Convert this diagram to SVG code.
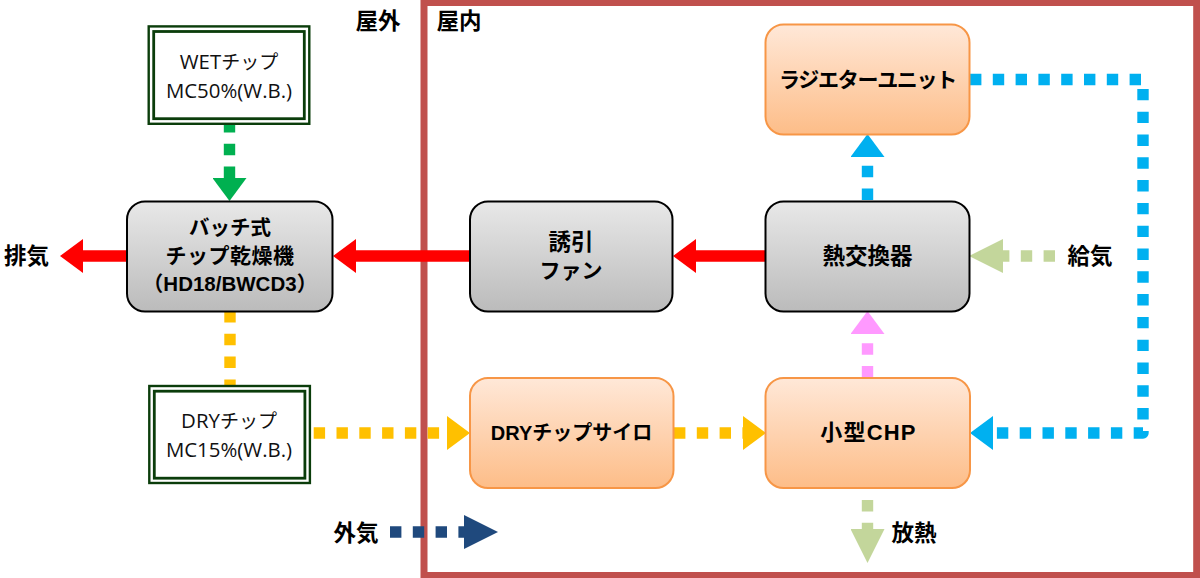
<svg xmlns="http://www.w3.org/2000/svg" width="1200" height="578" viewBox="0 0 1200 578">
<style>
text{font-family:"Liberation Sans","Noto Sans CJK JP",sans-serif;font-weight:700;font-size:21px;fill:#000;text-anchor:middle}
.big{font-size:22.5px}
.chip{font-family:"Open Sans","Noto Sans CJK JP",sans-serif;font-weight:400;font-size:20.4px;fill:#111}
.kana{font-size:19px}
.gray{fill:url(#gGray);stroke:#000;stroke-width:2}
.orange{fill:url(#gOrange);stroke:#F79646;stroke-width:2}
.outer{fill:#fff;stroke:#0B3D0B;stroke-width:2.4}
.inner{fill:#fff;stroke:#0B3D0B;stroke-width:2.8}
.d{fill:none;stroke-width:11.4;stroke-dasharray:11.4 11.4}
.s{fill:none;stroke:#FF0000;stroke-width:11.4}
</style>
<defs>
<linearGradient id="gGray" x1="0" y1="0" x2="0" y2="1"><stop offset="0" stop-color="#E8E8E8"/><stop offset="1" stop-color="#BBBBBB"/></linearGradient>
<linearGradient id="gOrange" x1="0" y1="0" x2="0" y2="1"><stop offset="0" stop-color="#FFE8D8"/><stop offset="1" stop-color="#FDBD88"/></linearGradient>
<marker id="mGreen" markerUnits="userSpaceOnUse" markerWidth="23" markerHeight="34" viewBox="0 0 23 34" refX="0" refY="17" orient="auto"><path d="M0 0L23 17L0 34Z" fill="#00B050"/></marker>
<marker id="mRed" markerUnits="userSpaceOnUse" markerWidth="23" markerHeight="34" viewBox="0 0 23 34" refX="0" refY="17" orient="auto"><path d="M0 0L23 17L0 34Z" fill="#FF0000"/></marker>
<marker id="mYellow" markerUnits="userSpaceOnUse" markerWidth="23" markerHeight="34" viewBox="0 0 23 34" refX="0" refY="17" orient="auto"><path d="M0 0L23 17L0 34Z" fill="#FFC000"/></marker>
<marker id="mBlue" markerUnits="userSpaceOnUse" markerWidth="23" markerHeight="34" viewBox="0 0 23 34" refX="0" refY="17" orient="auto"><path d="M0 0L23 17L0 34Z" fill="#00B0F0"/></marker>
<marker id="mPink" markerUnits="userSpaceOnUse" markerWidth="23" markerHeight="34" viewBox="0 0 23 34" refX="0" refY="17" orient="auto"><path d="M0 0L23 17L0 34Z" fill="#FF99FF"/></marker>
<marker id="mSage" markerUnits="userSpaceOnUse" markerWidth="34" markerHeight="34" viewBox="0 0 34 34" refX="0" refY="17" orient="auto"><path d="M0 0L34 17L0 34Z" fill="#C3D69B"/></marker>
<marker id="mNavy" markerUnits="userSpaceOnUse" markerWidth="34" markerHeight="34" viewBox="0 0 34 34" refX="0" refY="17" orient="auto"><path d="M0 0L34 17L0 34Z" fill="#1F497D"/></marker>
</defs>
<rect width="1200" height="578" fill="#fff"/>
<rect id="indoor-frame" x="424" y="2.5" width="772.7" height="573" fill="none" stroke="#C0504D" stroke-width="7"/>
<g id="connectors">
<path class="d" stroke="#00B050" d="M229.5 121V178" marker-end="url(#mGreen)"/>
<path class="s" d="M127 256H83" marker-end="url(#mRed)"/>
<path class="s" d="M469 256H356" marker-end="url(#mRed)"/>
<path class="s" d="M765 256H696" marker-end="url(#mRed)"/>
<path class="d" stroke="#FFC000" d="M230 311V389"/>
<path class="d" stroke="#FFC000" d="M313.7 433H447" marker-end="url(#mYellow)"/>
<path class="d" stroke="#FFC000" d="M674 433H743" marker-end="url(#mYellow)"/>
<path class="d" stroke="#00B0F0" d="M867.5 200V157" marker-end="url(#mBlue)"/>
<path class="d" stroke="#00B0F0" stroke-linejoin="round" d="M970 79.5H1143V433H993" marker-end="url(#mBlue)"/>
<path class="d" stroke="#FF99FF" d="M867.5 377.5V334" marker-end="url(#mPink)"/>
<path class="d" stroke="#C3D69B" d="M1055 256H1003" marker-end="url(#mSage)"/>
<path class="d" stroke="#C3D69B" d="M867.5 477.2V529" marker-end="url(#mSage)"/>
<path class="d" stroke="#1F497D" d="M390 532H464" marker-end="url(#mNavy)"/>
</g>
<g id="wet-chip">
<rect class="outer" x="148.7" y="26.4" width="160.6" height="97.4"/>
<rect class="inner" x="153.7" y="31.5" width="150.6" height="87.2"/>
<text class="chip" x="229" y="69">WET<tspan class="kana">チップ</tspan></text>
<text class="chip" x="229" y="98">MC50%(W.B.)</text>
</g>
<g id="dry-chip">
<rect class="outer" x="149.3" y="386" width="160.6" height="97"/>
<rect class="inner" x="154.3" y="391.2" width="150.6" height="87"/>
<text class="chip" x="229" y="428">DRY<tspan class="kana">チップ</tspan></text>
<text class="chip" x="229" y="457">MC15%(W.B.)</text>
</g>
<g id="dryer">
<rect class="gray" x="127" y="201.5" width="205.5" height="110" rx="18"/>
<text x="230" y="235" style="font-size:20.5px">バッチ式</text>
<text x="230" y="263" style="letter-spacing:.5px">チップ乾燥機</text>
<text x="230" y="291" style="font-size:20.5px">（HD18/BWCD3）</text>
</g>
<g id="fan">
<rect class="gray" x="470" y="201.5" width="202.5" height="110" rx="18"/>
<text class="big" x="571" y="250">誘引</text>
<text x="571" y="278">ファン</text>
</g>
<g id="heat-exchanger">
<rect class="gray" x="765.5" y="201.5" width="204" height="110" rx="18"/>
<text class="big" x="867.5" y="264">熱交換器</text>
</g>
<g id="radiator">
<rect class="orange" x="765.5" y="24.5" width="204" height="110" rx="18"/>
<text x="867.5" y="87" style="letter-spacing:-1.3px">ラジエターユニット</text>
</g>
<g id="silo">
<rect class="orange" x="470" y="378" width="203.5" height="110" rx="18"/>
<text x="571.5" y="440" style="font-size:20px">DRYチップサイロ</text>
</g>
<g id="chp">
<rect class="orange" x="765.5" y="378" width="204.5" height="110" rx="18"/>
<text x="868.5" y="440" style="font-size:22px;letter-spacing:1.2px">小型CHP</text>
</g>
<g id="labels">
<text class="big" x="378" y="29">屋外</text>
<text class="big" x="459" y="29">屋内</text>
<text class="big" x="26.5" y="264">排気</text>
<text class="big" x="1090" y="264">給気</text>
<text class="big" x="356" y="541">外気</text>
<text class="big" x="914" y="541">放熱</text>
</g>
</svg>
